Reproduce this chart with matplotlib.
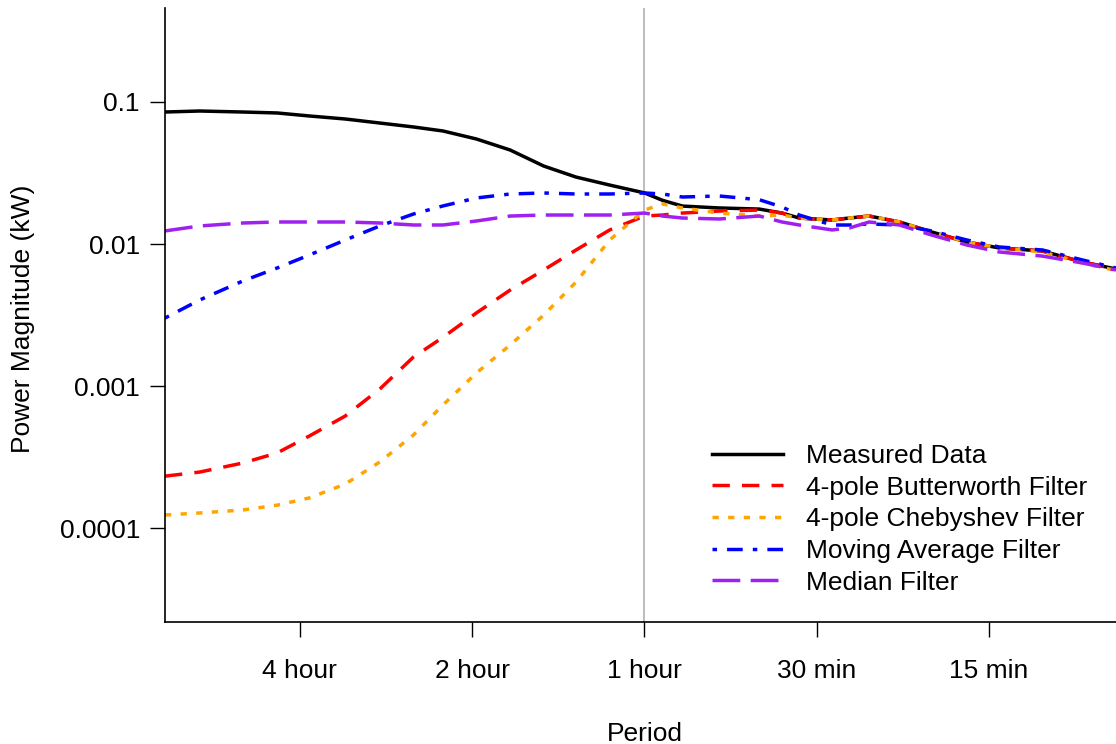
import numpy as np
import matplotlib
matplotlib.use("Agg")
import matplotlib.pyplot as plt
from matplotlib.ticker import FixedLocator, FixedFormatter, NullLocator

plt.rcParams["font.family"] = ["Liberation Sans", "DejaVu Sans"]

# period of each sample (minutes)
PERIOD_MIN = [413, 359, 302, 263, 231, 200, 174, 152, 135, 118, 103, 90, 79, 69,
              60, 55.8, 51.5, 44.4, 37.8, 34.5, 32.2, 28.2, 26.3, 24.3, 21.5, 18.9,
              16.4, 14.4, 12.1, 10.3, 9.0]

measured = [0.0850, 0.0864, 0.0850, 0.0837, 0.0797, 0.0759, 0.0711, 0.0667, 0.0625, 0.0549,
            0.0459, 0.0354, 0.0296, 0.0260, 0.0229, 0.0203, 0.01850, 0.01794, 0.01762, 0.01652,
            0.01524, 0.01476, 0.01524, 0.01574, 0.01429, 0.01216, 0.01033, 0.00938, 0.00893,
            0.00747, 0.00667]

butterworth = [2.32e-4, 2.48e-4, 2.87e-4, 3.38e-4, 4.45e-4, 6.15e-4, 9.53e-4, 1.60e-3, 2.20e-3, 3.27e-3,
               4.74e-3, 6.56e-3, 9.08e-3, 0.01256, 0.01574, 0.0160, 0.01652, 0.01707, 0.01734, 0.01652,
               0.01524, 0.01476, 0.01524, 0.01574, 0.01429, 0.01216, 0.01033, 0.00938, 0.00893,
               0.00747, 0.00667]

chebyshev = [1.236e-4, 1.277e-4, 1.34e-4, 1.45e-4, 1.63e-4, 2.04e-4, 2.92e-4, 4.52e-4, 7.35e-4, 1.235e-3,
             1.945e-3, 3.16e-3, 5.40e-3, 0.01067, 0.01734, 0.01914, 0.01794, 0.01652, 0.01574, 0.0160,
             0.01524, 0.01476, 0.01524, 0.01574, 0.01429, 0.01216, 0.01033, 0.00938, 0.00880,
             0.00735, 0.00650]

moving_avg = [3.01e-3, 4.04e-3, 5.49e-3, 6.78e-3, 8.37e-3, 0.01067, 0.01340, 0.01626, 0.01853, 0.02109,
              0.02250, 0.02287, 0.02250, 0.02250, 0.02287, 0.0225, 0.02143, 0.02178, 0.02050, 0.01823,
              0.01600, 0.01361, 0.01361, 0.01384, 0.01361, 0.01236, 0.01067, 0.00953, 0.00908,
              0.00772, 0.00678]

median = [0.01236, 0.0134, 0.01406, 0.01429, 0.01429, 0.01429, 0.01406, 0.01361, 0.01361, 0.01452,
          0.01574, 0.0160, 0.0160, 0.0160, 0.01652, 0.01574, 0.01524, 0.0150, 0.01574, 0.01429,
          0.01361, 0.01256, 0.01297, 0.01429, 0.01361, 0.01157, 0.00984, 0.00879, 0.00822,
          0.00735, 0.00656]

TICK_MIN = [240, 120, 60, 30, 15]
TICK_LABELS = ["4 hour", "2 hour", "1 hour", "30 min", "15 min"]
YTICKS = [0.1, 0.01, 0.001, 0.0001]
YTICK_LABELS = ["0.1", "0.01", "0.001", "0.0001"]

FS = 19

fig = plt.figure(figsize=(11.16, 7.44), dpi=100)
ax = fig.add_axes([165 / 1116, 1 - 622 / 744, 1 - 165 / 1116, (622 - 8) / 744])

lw = 2.5
series = [
    (measured, "black", None, "Measured Data"),
    (butterworth, "#FF0000", (5, 3.5), "4-pole Butterworth Filter"),
    (chebyshev, "#FFA500", (1.8, 2.7), "4-pole Chebyshev Filter"),
    (moving_avg, "#0000FF", (1.3, 2.9, 4.5, 2.9), "Moving Average Filter"),
    (median, "#A020F0", (8, 3), "Median Filter"),
]

for vals, col, dash, lab in series:
    if dash is None:
        ax.plot(PERIOD_MIN, vals, color=col, lw=lw, label=lab)
    else:
        ax.plot(PERIOD_MIN, vals, color=col, lw=lw, dashes=dash, label=lab)

ax.axvline(60, color="#b0b0b0", lw=1.2, zorder=0)

ax.set_xscale("log")
ax.set_yscale("log")
ax.set_xlim(413, 9.0)
ax.set_ylim(2.18e-5, 0.459)

ax.xaxis.set_major_locator(FixedLocator(TICK_MIN))
ax.xaxis.set_major_formatter(FixedFormatter(TICK_LABELS))
ax.xaxis.set_minor_locator(NullLocator())
ax.yaxis.set_major_locator(FixedLocator(YTICKS))
ax.yaxis.set_major_formatter(FixedFormatter(YTICK_LABELS))
ax.yaxis.set_minor_locator(NullLocator())

ax.tick_params(axis="x", length=11, width=1, pad=16, labelsize=FS)
ax.tick_params(axis="y", length=11, width=1, pad=7, labelsize=FS)

for s in ["top", "right"]:
    ax.spines[s].set_visible(False)
for s in ["left", "bottom"]:
    ax.spines[s].set_linewidth(1.2)

fig.text(645 / 1116, 1 - 734 / 744, "Period", ha="center", va="center", fontsize=FS)
fig.text(23 / 1116, 1 - 319 / 744, "Power Magnitude (kW)", ha="center", va="center",
         rotation=90, fontsize=FS)

ax.legend(loc="upper left", bbox_to_anchor=(712 / 1116, 1 - 444 / 744),
          bbox_transform=fig.transFigure, frameon=False, fontsize=FS,
          handlelength=2.7, handletextpad=0.85, labelspacing=0.29,
          borderpad=0, borderaxespad=0)

fig.savefig("out.png", dpi=100)
